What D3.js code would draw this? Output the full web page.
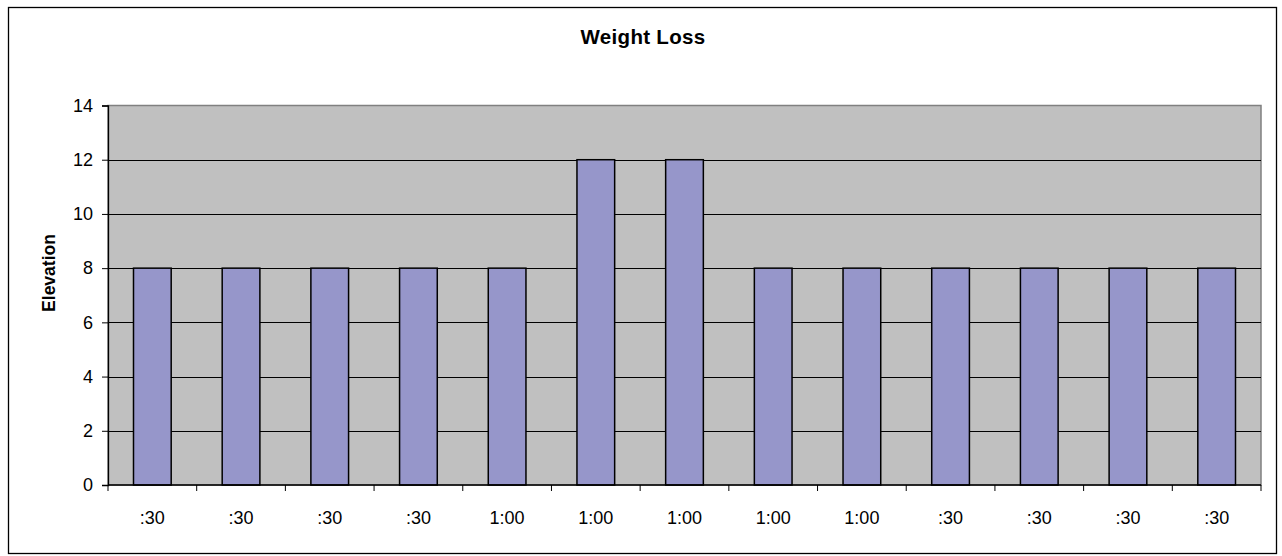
<!DOCTYPE html>
<html>
<head>
<meta charset="utf-8">
<script src="https://cdn.jsdelivr.net/npm/d3@7"></script>
<style>
  body { margin: 0; background: #fff; }
  text { font-family: "Liberation Sans", Arial, sans-serif; fill: #000; }
</style>
</head>
<body>
<svg id="chart" width="1282" height="556"></svg>
<script>
// data
var categories = [":30", ":30", ":30", ":30", "1:00", "1:00", "1:00", "1:00", "1:00", ":30", ":30", ":30", ":30"];
var elevation = [8, 8, 8, 8, 8, 12, 12, 8, 8, 8, 8, 8, 8];
var yTicks = [0, 2, 4, 6, 8, 10, 12, 14];

var svg = d3.select("#chart");
var plot = {left: 108, top: 105.5, right: 1261, bottom: 485};

// outer frame
svg.append("rect")
    .attr("x", 8.5).attr("y", 7.5)
    .attr("width", 1268).attr("height", 546)
    .attr("fill", "#fff").attr("stroke", "#000").attr("stroke-width", 1.3);

// indices as keys so repeated labels stay distinct
var x = d3.scaleBand()
    .domain(d3.range(categories.length))
    .range([plot.left, plot.right])
    .paddingInner(0.575).paddingOuter(0.2875);

var xCat = d3.scaleBand()
    .domain(d3.range(categories.length))
    .range([plot.left, plot.right]);

var y = d3.scaleLinear().domain([0, 14]).range([plot.bottom, plot.top]);

// plot background
svg.append("rect")
    .attr("x", plot.left).attr("y", plot.top)
    .attr("width", plot.right - plot.left).attr("height", plot.bottom - plot.top)
    .attr("fill", "#c0c0c0").attr("stroke", "#808080").attr("stroke-width", 1.5);

// gridlines
svg.append("g").selectAll("line")
    .data(yTicks.filter(function (d) { return d > 0 && d < 14; }))
    .enter().append("line")
    .attr("x1", plot.left).attr("x2", plot.right)
    .attr("y1", function (d) { return Math.round(y(d)) + 0.5; })
    .attr("y2", function (d) { return Math.round(y(d)) + 0.5; })
    .attr("stroke", "#000").attr("stroke-width", 1);

// bars
svg.append("g").selectAll("rect")
    .data(elevation)
    .enter().append("rect")
    .attr("x", function (d, i) { return x(i); })
    .attr("y", function (d) { return y(d); })
    .attr("width", x.bandwidth())
    .attr("height", function (d) { return y(0) - y(d); })
    .attr("fill", "#9696ca")
    .attr("stroke", "#000").attr("stroke-width", 1.5);

// y axis
var yAxis = d3.axisLeft(y).tickValues(yTicks).tickSize(6).tickPadding(9);
var gy = svg.append("g").attr("transform", "translate(" + plot.left + ",0)").call(yAxis);
gy.select(".domain").attr("stroke", "#000").attr("stroke-width", 1.3);
gy.selectAll(".tick line").attr("stroke", "#000");
gy.selectAll("text").style("font-size", "18px");

// x axis: ticks at category boundaries, labels at centres
var gx = svg.append("g").attr("transform", "translate(0," + plot.bottom + ")");
gx.append("line")
    .attr("x1", plot.left).attr("x2", plot.right)
    .attr("stroke", "#000").attr("stroke-width", 1.3);
gx.selectAll("line.tk")
    .data(d3.range(categories.length + 1))
    .enter().append("line").attr("class", "tk")
    .attr("x1", function (i) { return plot.left + i * xCat.step(); })
    .attr("x2", function (i) { return plot.left + i * xCat.step(); })
    .attr("y1", 0).attr("y2", 6)
    .attr("stroke", "#000");
gx.selectAll("text")
    .data(categories)
    .enter().append("text")
    .attr("x", function (d, i) { return xCat(i) + xCat.bandwidth() / 2; })
    .attr("y", 39)
    .attr("text-anchor", "middle")
    .style("font-size", "18px")
    .text(function (d) { return d; });

// title
svg.append("text")
    .attr("x", 643).attr("y", 44)
    .attr("text-anchor", "middle")
    .style("font-size", "20.5px").style("font-weight", "bold")
    .style("letter-spacing", "0.3px")
    .text("Weight Loss");

// y title
svg.append("text")
    .attr("transform", "translate(55,273) rotate(-90)")
    .attr("text-anchor", "middle")
    .style("font-size", "17.5px").style("font-weight", "bold")
    .text("Elevation");
</script>
</body>
</html>
